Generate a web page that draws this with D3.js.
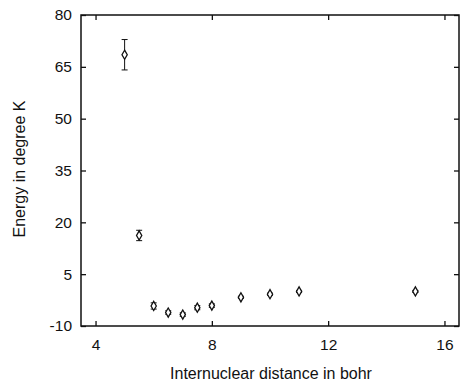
<!DOCTYPE html>
<html>
<head>
<meta charset="utf-8">
<script src="https://cdn.jsdelivr.net/npm/d3@7"></script>
<style>
  html, body { margin: 0; padding: 0; background: #fff; }
  svg { display: block; }
  text { font-family: "Liberation Sans", Arial, Helvetica, sans-serif; fill: #111; }
</style>
</head>
<body>
<svg id="chart" width="461" height="383"></svg>
<script>
// Data
const distance = [5, 5.5, 6, 6.5, 7, 7.5, 8, 9, 10, 11, 15];
const energy   = [68.5, 16.2, -4.2, -6.1, -6.7, -4.7, -4.1, -1.7, -0.8, 0, 0];
const errLow   = [4.4, 1.5, 0.9, 0.5, 0.5, 0.6, 0.5, 0.3, 0.3, 0.3, 0.3];
const errHigh  = [4.4, 1.5, 0.9, 0.5, 0.5, 0.6, 0.5, 0.3, 0.3, 0.3, 0.3];
const xTicks = [4, 8, 12, 16];
const yTicks = [-10, 5, 20, 35, 50, 65, 80];
const xLabel = "Internuclear distance in bohr";
const yLabel = "Energy in degree K";

const svg = d3.select("#chart");
const margin = {left: 81, right: 2, top: 15, bottom: 57};
const W = 461, H = 383;
const iw = W - margin.left - margin.right;
const ih = H - margin.top - margin.bottom;

const x = d3.scaleLinear().domain([3.5, 16.5]).range([margin.left, margin.left + iw]);
const y = d3.scaleLinear().domain([-10, 80]).range([margin.top + ih, margin.top]);

const g = svg.append("g");

// frame
g.append("rect")
  .attr("x", margin.left).attr("y", margin.top)
  .attr("width", iw).attr("height", ih)
  .attr("fill", "none").attr("stroke", "#111").attr("stroke-width", 1.5);

const tl = 5;
const fmt = d => String(d);
// bottom axis
const bx = g.append("g").attr("transform", `translate(0,${margin.top + ih})`)
  .call(d3.axisBottom(x).tickValues(xTicks).tickFormat(fmt).tickSizeInner(-tl).tickSizeOuter(0).tickPadding(13));
// top ticks
const tx = g.append("g").attr("transform", `translate(0,${margin.top})`)
  .call(d3.axisTop(x).tickValues(xTicks).tickSizeInner(-tl).tickSizeOuter(0).tickFormat(""));
// left axis
const ly = g.append("g").attr("transform", `translate(${margin.left},0)`)
  .call(d3.axisLeft(y).tickValues(yTicks).tickFormat(fmt).tickSizeInner(-tl).tickSizeOuter(0).tickPadding(9));
// right ticks
const ry = g.append("g").attr("transform", `translate(${margin.left + iw},0)`)
  .call(d3.axisRight(y).tickValues(yTicks).tickSizeInner(-tl).tickSizeOuter(0).tickFormat(""));

[bx, tx, ly, ry].forEach(a => {
  a.select(".domain").remove();
  a.selectAll(".tick line").attr("stroke", "#111").attr("stroke-width", 1.3);
  a.selectAll(".tick text").attr("font-size", 15.5).attr("fill", "#111")
    .style("font-family", '"Liberation Sans", Arial, Helvetica, sans-serif');
});

// error bars
const pts = distance.map((d, i) => ({x: d, y: energy[i], lo: energy[i] - errLow[i], hi: energy[i] + errHigh[i]}));
const eb = g.append("g").attr("stroke", "#111").attr("stroke-width", 1);
pts.forEach(p => {
  const cx = x(p.x);
  eb.append("line").attr("x1", cx).attr("x2", cx).attr("y1", y(p.lo)).attr("y2", y(p.hi));
  eb.append("line").attr("x1", cx - 3).attr("x2", cx + 3).attr("y1", y(p.lo)).attr("y2", y(p.lo));
  eb.append("line").attr("x1", cx - 3).attr("x2", cx + 3).attr("y1", y(p.hi)).attr("y2", y(p.hi));
});

// diamond markers
const sym = d3.symbol().type(d3.symbolDiamond).size(24);
g.append("g").selectAll("path").data(pts).join("path")
  .attr("d", sym)
  .attr("transform", d => `translate(${x(d.x)},${y(d.y)})`)
  .attr("fill", "#fff").attr("stroke", "#111").attr("stroke-width", 1.3);

// axis titles
svg.append("text").attr("x", 271).attr("y", 379)
  .attr("text-anchor", "middle").attr("font-size", 16).text(xLabel);
svg.append("text").attr("transform", "translate(25,169) rotate(-90)")
  .attr("text-anchor", "middle").attr("font-size", 16).text(yLabel);
</script>
</body>
</html>
